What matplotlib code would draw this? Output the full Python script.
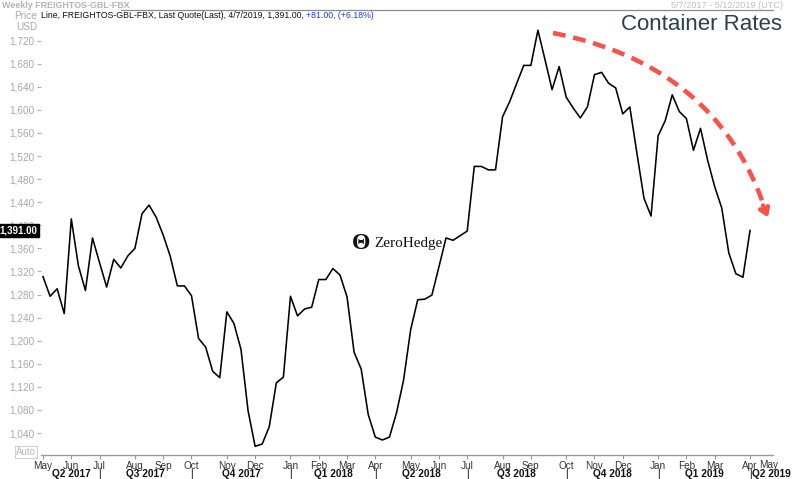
import matplotlib
matplotlib.use("Agg")
import matplotlib.pyplot as plt
from matplotlib.lines import Line2D
from matplotlib.patches import FancyArrowPatch
import numpy as np
import pandas as pd

plt.rcParams["font.family"] = ["Liberation Sans", "DejaVu Sans"]

# ---------------- data ----------------
start_date = "2017-05-07"
values = [1311, 1277, 1290, 1247, 1411, 1330, 1287, 1378, 1335, 1293,
          1341, 1326, 1347, 1360, 1420, 1435, 1414, 1383, 1346, 1295,
          1295, 1278, 1204, 1189, 1147, 1136, 1250, 1230, 1185, 1079,
          1017, 1021, 1051, 1127, 1137, 1277, 1243, 1255, 1258, 1306,
          1306, 1325, 1314, 1276, 1180, 1151, 1072, 1033, 1028, 1033,
          1075, 1132, 1219, 1271, 1272, 1279, 1328, 1378, 1374, 1382,
          1390, 1502, 1502, 1496, 1496, 1588, 1614, 1646, 1677, 1677,
          1738, 1687, 1635, 1675, 1622, 1603, 1586, 1605, 1661, 1665,
          1646, 1638, 1593, 1605, 1525, 1447, 1416, 1555, 1581, 1626,
          1597, 1585, 1530, 1568, 1513, 1467, 1430, 1352, 1316, 1310,
          1391]
dates = pd.date_range(start_date, periods=len(values), freq="7D")
y_ticks = list(range(1040, 1721, 40))
quarter_labels = ["Q2 2017", "Q3 2017", "Q4 2017", "Q1 2018", "Q2 2018",
                  "Q3 2018", "Q4 2018", "Q1 2019", "Q2 2019"]
last_value = 1391.00
title_line = "Line, FREIGHTOS-GBL-FBX, Last Quote(Last), 4/7/2019, 1,391.00, "
change_text = "+81.00, (+6.18%)"

W, H = 800, 479
fig = plt.figure(figsize=(W / 100, H / 100), dpi=100)
fig.patch.set_facecolor("white")

def fx(px):
    return px / W

def fy(py):
    return 1 - py / H

ax_left, ax_right, ax_top, ax_bottom = 41, 773, 10, 455
ax = fig.add_axes([fx(ax_left), fy(ax_bottom), (ax_right - ax_left) / W,
                   (ax_bottom - ax_top) / H])

ax.plot(dates, values, color="black", lw=1.15, zorder=3)
xmax = pd.Timestamp("2019-04-29 18:00")
ax.set_xlim(pd.Timestamp("2017-05-05"), xmax)
ax.set_ylim(1002, 1773)

for s in ["left", "right", "top"]:
    ax.spines[s].set_visible(False)
ax.spines["bottom"].set_color("#9a9a9a")
ax.spines["bottom"].set_linewidth(1.0)

# y ticks
ax.set_yticks(y_ticks)
ax.set_yticklabels([f"{v:,}" for v in y_ticks])
ax.tick_params(axis="y", length=3, width=0.8, color="#b0b0b0",
               labelcolor="#a8a8a8", labelsize=7.2, pad=1.5)

# x ticks: first data point of each month
ser = pd.Series(dates)
month_first = ser.groupby([ser.dt.year, ser.dt.month]).first().tolist()
ax.set_xticks(month_first)
ax.set_xticklabels([d.strftime("%b") for d in month_first])
ax.tick_params(axis="x", length=3, width=0.8, color="#9a9a9a",
               labelcolor="#333333", labelsize=7.2, pad=1.0)

# extra "May" (2019) at axis end
ax.text(0.994, -0.011, "May", transform=ax.transAxes, ha="center", va="top",
        fontsize=7.2, color="#333333")

# quarter labels
qstarts = [d for d in month_first if d.month in (1, 4, 7, 10)]
bounds = [dates[0]] + qstarts + [xmax]
trans = ax.get_xaxis_transform()
qy = -0.043
for i, lab in enumerate(quarter_labels):
    a, b = bounds[i], bounds[i + 1]
    mid = a + (b - a) / 2
    if lab == "Q2 2019":
        ax.text(a + pd.Timedelta(days=1.5), qy, lab, transform=trans, ha="left",
                va="center", fontsize=7.3, fontweight="bold", color="#111111")
    else:
        ax.text(mid, qy, lab, transform=trans, ha="center", va="center",
                fontsize=7.3, fontweight="bold", color="#111111")
for q in qstarts:
    ax.text(q, qy, "|", transform=trans, ha="center", va="center",
            fontsize=7.3, color="#111111")

# last value box
ax.text(-0.005, last_value, f"{last_value:,.2f}", transform=ax.get_yaxis_transform(),
        ha="right", va="center", fontsize=7, fontweight="bold", color="white",
        bbox=dict(boxstyle="square,pad=0.12", fc="black", ec="black"), zorder=10)

# header
fig.text(fx(2), fy(6), "Weekly FREIGHTOS-GBL-FBX", ha="left", va="center",
         fontsize=6.4, fontweight="bold", color="#b4b4b4")
fig.add_artist(Line2D([fx(121), fx(773)], [fy(9.5), fy(9.5)], color="#8a8a8a", lw=0.9))
fig.text(fx(37), fy(16), "Price", ha="right", va="center", fontsize=7.2, color="#a8a8a8")
fig.text(fx(37), fy(27), "USD", ha="right", va="center", fontsize=7.2, color="#a8a8a8")
t1 = fig.text(fx(41), fy(16), title_line, ha="left", va="center", fontsize=6.3,
              color="#111111")
fig.canvas.draw()
bb = t1.get_window_extent()
fig.text(bb.x1 / W, fy(16), change_text, ha="left", va="center", fontsize=6.3,
         color="#1f3fe0")
fig.text(fx(783), fy(5), "5/7/2017 - 5/12/2019 (UTC)", ha="right", va="center",
         fontsize=6.6, color="#c0c0c0")

# Auto box
fig.text(fx(26), fy(452), "Auto", ha="center", va="center", fontsize=7,
         color="#b8b8b8", bbox=dict(boxstyle="square,pad=0.15", fc="white", ec="#d0d0d0", lw=0.8))

# Container Rates title
fig.text(fx(782), fy(24), "Container Rates", ha="right", va="center",
         fontsize=16, color="#2f3e4c")

# ZeroHedge watermark
fig.text(fx(352), fy(243), "\u0398", ha="left", va="center", fontsize=17,
         family="Liberation Serif", fontweight="bold", color="#111111")
fig.text(fx(374), fy(243), "ZeroHedge", ha="left", va="center", fontsize=11,
         family="Liberation Serif", color="#111111")

# red dashed curved arrow
red = "#f9524a"
P0 = np.array([553, 33.0]); P1 = np.array([715, 65.0]); P2 = np.array([764, 206.0])
t = np.linspace(0, 1, 80)[:, None]
curve = (1 - t) ** 2 * P0 + 2 * (1 - t) * t * P1 + t ** 2 * P2
fig.add_artist(Line2D(curve[:, 0] / W, 1 - curve[:, 1] / H, color=red, lw=3.3,
                      linestyle=(0, (2.8, 1.7)), solid_capstyle="butt"))
fig.add_artist(FancyArrowPatch(
    (fx(762), fy(203)), (fx(769), fy(220)), transform=fig.transFigure,
    arrowstyle="->,head_length=4.5,head_width=3", color=red, lw=3.3,
    mutation_scale=1))

fig.savefig("out.png", dpi=100, facecolor="white")
